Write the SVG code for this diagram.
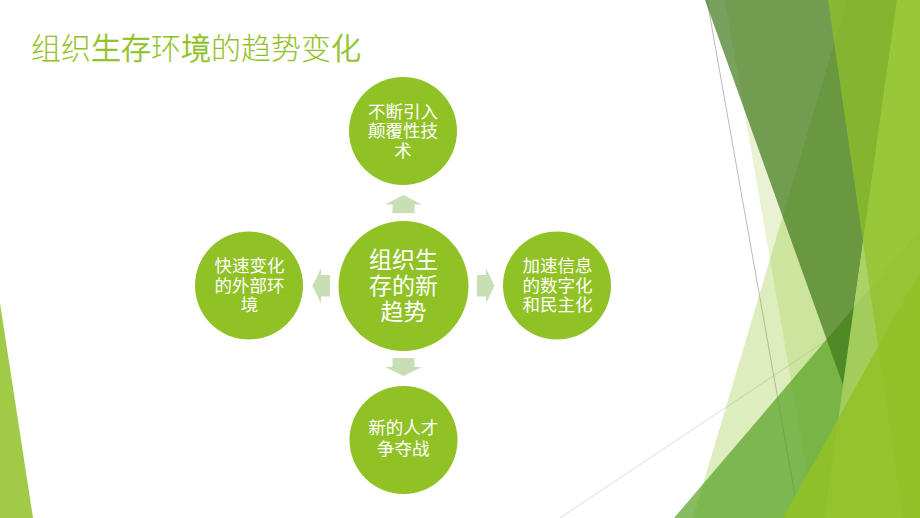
<svg xmlns="http://www.w3.org/2000/svg" width="920" height="518" viewBox="0 0 920 518">
<defs>
<style>
.node{fill:#90C226;}
.arr{fill:#C8DFB3;}
.t{font-family:"Noto Sans CJK SC","Noto Sans",sans-serif;fill:#FFFFFF;text-anchor:middle;font-size:17.5px;}
.tc{font-family:"Noto Sans CJK SC","Noto Sans",sans-serif;fill:#FFFFFF;text-anchor:middle;font-size:23px;}
.title{font-family:"Noto Sans CJK SC","Noto Sans",sans-serif;fill:#90C226;font-size:30px;font-weight:300;}
.m{stroke:#90C226;stroke-width:0.6;}
.gl{stroke-width:0.8;fill:none;}
</style>
</defs>
<rect width="920" height="518" fill="#FFFFFF"/>
<g id="background">
<line class="gl" x1="707" y1="0" x2="799" y2="518" stroke="#A8A8A8"/>
<line class="gl" x1="920" y1="278" x2="560" y2="518" stroke="#D2D2D2"/>
<polygon points="847,0 920,0 920,518 693,518" fill="#90C226" fill-opacity="0.3"/>
<polygon points="725,0 920,0 920,518 815,518" fill="#90C226" fill-opacity="0.2"/>
<polygon points="920,230 920,518 674,518" fill="#54A021" fill-opacity="0.7"/>
<polygon points="705,0 897,0 843,385" fill="#3F7819" fill-opacity="0.7"/>
<polygon points="897,0 920,0 920,518 824.5,518" fill="#A6CF5E" fill-opacity="0.9"/>
<polygon points="828,0 920,0 920,518 903,518" fill="#90C226" fill-opacity="0.7"/>
<polygon points="920,271 920,518 783,518" fill="#90C226" fill-opacity="0.85"/>
<polygon points="0,303 33,518 0,518" fill="#90C226" fill-opacity="0.85"/>
</g>
<g id="title">
<text class="title" x="31" y="59">组织<tspan class="m">生存</tspan>环<tspan class="m">境</tspan>的趋势变<tspan class="m">化</tspan></text>
</g>
<g id="connectors">
<polygon class="arr" points="403.5,195 422,204.5 414.5,204.5 414.5,213 392.5,213 392.5,204.5 385,204.5"/>
<polygon class="arr" points="403.5,376 422,367 414.5,367 414.5,358 392.5,358 392.5,367 385,367"/>
<polygon class="arr" points="312.5,285.7 321,268.2 321,275 330,275 330,296.4 321,296.4 321,303.2"/>
<polygon class="arr" points="494.5,285.7 486,268.2 486,275 477,275 477,296.4 486,296.4 486,303.2"/>
</g>
<g id="node-center">
<circle class="node" cx="403.5" cy="286" r="65"/>
<text class="tc"><tspan x="403.5" y="267.8">组织生</tspan><tspan x="403.5" y="294">存的新</tspan><tspan x="403.5" y="319.5">趋势</tspan></text>
</g>
<g id="node-top">
<circle class="node" cx="403" cy="131" r="54"/>
<text class="t"><tspan x="403" y="117.6">不断引入</tspan><tspan x="403" y="137.1">颠覆性技</tspan><tspan x="403" y="156.6">术</tspan></text>
</g>
<g id="node-left">
<circle class="node" cx="249" cy="285.5" r="54"/>
<text class="t"><tspan x="249.5" y="272.4">快速变化</tspan><tspan x="249.5" y="291.9">的外部环</tspan><tspan x="249.5" y="311.4">境</tspan></text>
</g>
<g id="node-right">
<circle class="node" cx="557" cy="285.5" r="54"/>
<text class="t"><tspan x="557.5" y="272.4">加速信息</tspan><tspan x="557.5" y="291.9">的数字化</tspan><tspan x="557.5" y="311.4">和民主化</tspan></text>
</g>
<g id="node-bottom">
<circle class="node" cx="403.5" cy="440" r="54"/>
<text class="t"><tspan x="403.3" y="434">新的人才</tspan><tspan x="403.3" y="454.5">争夺战</tspan></text>
</g>
</svg>
